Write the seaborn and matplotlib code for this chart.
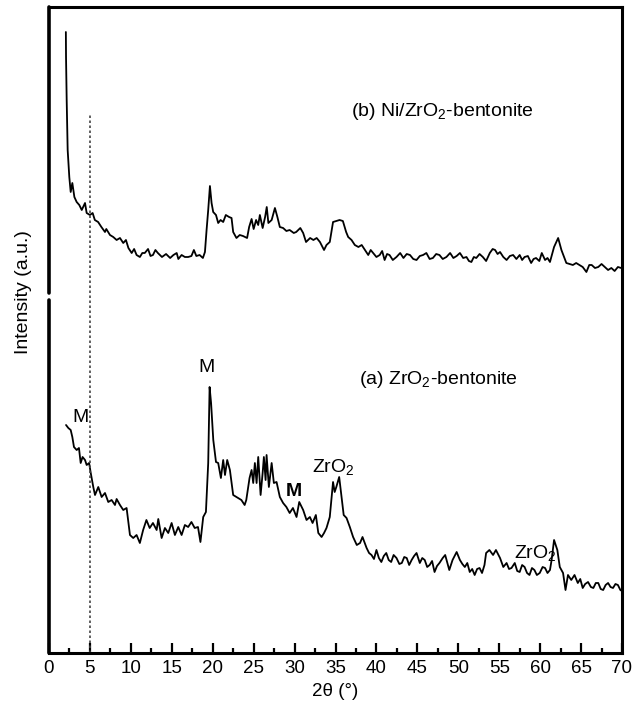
import numpy as np
import pandas as pd
import matplotlib
matplotlib.use("Agg")
import matplotlib.pyplot as plt
import seaborn as sns

# ---- data (intensity in arbitrary units) ----
b_theta = [2.06, 2.08, 2.16, 2.28, 2.48, 2.65, 2.85, 3.1, 3.38, 3.7, 4.0, 4.4, 4.6, 5.0,
           5.33, 5.6, 6.0, 6.4, 6.84, 7.0, 7.45, 7.85, 8.26, 8.67, 9.07, 9.4, 9.7, 10.1,
           10.4, 10.7, 11.1, 11.4, 11.7, 12.1, 12.4, 12.7, 13.0, 13.3, 13.8, 14.3, 14.8,
           15.2, 15.6, 15.8, 16.2, 16.6, 17.0, 17.4, 17.7, 18.0, 18.4, 18.8, 19.05, 19.25,
           19.45, 19.66, 19.86, 20.06, 20.4, 20.67, 20.96, 21.28, 21.6, 22.0, 22.3, 22.5,
           22.9, 23.3, 23.7, 24.2, 24.45, 24.75, 25.0, 25.3, 25.56, 25.76, 26.1, 26.4,
           26.6, 26.8, 27.2, 27.6, 27.9, 28.2, 28.6, 29.0, 29.4, 29.9, 30.2, 30.7, 31.05,
           31.4, 31.9, 32.3, 32.7, 33.1, 33.6, 33.9, 34.3, 34.7, 35.1, 35.5, 35.9, 36.3,
           36.55, 36.96, 37.36, 37.8, 38.2, 38.6, 39.0, 39.3, 39.6, 40.0, 40.4, 40.7,
           41.0, 41.3, 41.6, 42.0, 42.45, 42.9, 43.3, 43.7, 44.1, 44.5, 44.9, 45.3, 45.7,
           46.1, 46.5, 46.9, 47.3, 47.7, 48.1, 48.55, 49.0, 49.4, 49.8, 50.2, 50.6, 51.0,
           51.3, 51.6, 51.9, 52.2, 52.6, 53.0, 53.4, 53.85, 54.2, 54.5, 54.8, 55.1, 55.5,
           55.9, 56.3, 56.7, 57.1, 57.5, 57.8, 58.1, 58.5, 58.9, 59.2, 59.5, 59.9, 60.2,
           60.6, 60.9, 61.2, 61.7, 62.2, 62.6, 63.2, 63.6, 64.0, 64.4, 64.8, 65.2, 65.65,
           66.0, 66.3, 66.7, 67.1, 67.5, 67.9, 68.3, 68.7, 69.1, 69.5, 69.9]
b_int = [621, 596, 553, 503, 476, 461, 470, 456, 451, 448, 443, 450, 440, 438,
         440, 433, 431, 426, 421, 424, 418, 416, 413, 415, 410, 413, 405, 400,
         404, 398, 396, 400, 400, 404, 397, 398, 403, 400, 396, 399, 395,
         398, 400, 394, 398, 396, 396, 397, 403, 397, 398, 395, 401, 423,
         443, 467, 450, 441, 438, 430, 433, 431, 438, 436, 435, 421,
         415, 418, 417, 415, 426, 434, 424, 433, 428, 438, 425, 436,
         446, 430, 433, 445, 436, 426, 425, 422, 423, 420, 421, 425, 420,
         411, 415, 413, 415, 411, 403, 408, 411, 431, 432, 433, 432, 421,
         416, 413, 408, 406, 408, 403, 398, 403, 400, 396, 398, 402,
         393, 399, 398, 393, 396, 400, 395, 399, 398, 394, 393, 397, 398,
         400, 394, 395, 399, 398, 394, 396, 400, 395, 397, 400, 395, 396,
         392, 391, 396, 395, 399, 396, 392, 400, 404, 403, 399, 401, 396,
         393, 397, 398, 394, 398, 393, 396, 397, 390, 394, 395, 392, 400,
         393, 395, 391, 406, 415, 403, 390, 389, 388, 390, 388, 386, 381,
         388, 388, 385, 386, 389, 386, 383, 385, 382, 386, 385]

a_theta = [2.08, 2.36, 2.65, 2.85, 3.05, 3.38, 3.66, 3.87, 4.1, 4.4, 4.6, 4.9, 5.1, 5.41,
           5.62, 6.02, 6.43, 6.84, 7.24, 7.65, 8.06, 8.26, 8.67, 9.07, 9.48, 9.89, 10.29,
           10.7, 11.1, 11.5, 11.9, 12.3, 12.7, 13.15, 13.35, 13.76, 14.16, 14.57, 14.98,
           15.38, 15.79, 16.2, 16.6, 17.0, 17.4, 17.8, 18.2, 18.5, 18.84, 19.17, 19.45,
           19.62, 19.8, 20.07, 20.4, 20.67, 21.0, 21.28, 21.5, 21.77, 22.1, 22.5, 22.9,
           23.5, 23.9, 24.1, 24.5, 24.75, 24.95, 25.15, 25.36, 25.56, 25.85, 26.1, 26.25,
           26.46, 26.58, 26.86, 27.2, 27.47, 27.8, 28.2, 28.6, 29.0, 29.4, 29.8, 30.24,
           30.57, 31.05, 31.46, 31.87, 32.2, 32.6, 32.9, 33.3, 33.6, 33.9, 34.3, 34.7,
           34.9, 35.1, 35.45, 35.74, 36.0, 36.35, 36.75, 37.15, 37.6, 38.0, 38.3, 38.8,
           39.1, 39.4, 39.7, 40.0, 40.3, 40.6, 40.9, 41.2, 41.5, 41.8, 42.1, 42.45, 42.8,
           43.1, 43.4, 43.7, 44.0, 44.3, 44.6, 44.9, 45.3, 45.6, 45.9, 46.2, 46.5, 46.8,
           47.1, 47.4, 47.7, 48.1, 48.4, 48.9, 49.3, 49.8, 50.2, 50.5, 50.8, 51.1, 51.4,
           51.7, 52.0, 52.3, 52.6, 52.9, 53.2, 53.4, 53.8, 54.25, 54.6, 55.1, 55.5, 55.9,
           56.2, 56.5, 56.9, 57.2, 57.5, 57.8, 58.1, 58.4, 58.7, 59.0, 59.3, 59.6, 59.95,
           60.3, 60.6, 60.9, 61.2, 61.4, 61.7, 62.1, 62.4, 62.8, 63.1, 63.4, 63.8, 64.2,
           64.6, 64.9, 65.2, 65.5, 65.85, 66.2, 66.5, 66.8, 67.1, 67.4, 67.7, 68.0, 68.3,
           68.6, 68.9, 69.2, 69.5, 69.8, 70.0]
a_int = [228, 225, 223, 216, 206, 203, 205, 190, 196, 193, 188, 190, 180, 166,
         158, 166, 156, 160, 151, 153, 148, 154, 148, 143, 145, 118, 115,
         118, 110, 123, 133, 125, 130, 123, 134, 115, 125, 120, 130,
         118, 126, 118, 128, 126, 131, 125, 126, 111, 136, 141, 190,
         266, 250, 213, 191, 190, 175, 193, 178, 193, 183, 158, 156,
         153, 148, 153, 175, 183, 170, 190, 170, 196, 158, 180, 196,
         173, 198, 166, 190, 170, 171, 156, 150, 146, 140, 145, 136,
         151, 143, 133, 136, 130, 138, 120, 116, 120, 125, 136, 171,
         161, 166, 176, 156, 138, 135, 126, 116, 108, 110, 116, 105,
         100, 98, 94, 103, 95, 91, 97, 100, 93, 91, 98, 95, 89,
         90, 96, 95, 88, 93, 97, 100, 90, 95, 93, 86, 88, 92,
         81, 87, 90, 95, 98, 83, 93, 101, 93, 89, 86, 90, 81,
         84, 78, 84, 85, 80, 88, 100, 103, 98, 103, 95, 86, 90,
         84, 85, 90, 82, 81, 88, 86, 80, 78, 85, 83, 78, 80,
         86, 85, 80, 83, 93, 113, 103, 86, 80, 63, 78, 73, 78,
         70, 74, 65, 69, 71, 66, 65, 70, 70, 64, 63, 68, 70,
         66, 65, 69, 68, 63, 62]

curve_labels = ["(a) ZrO$_2$-bentonite", "(b) Ni/ZrO$_2$-bentonite"]
peak_labels = ["M", "M", "M", "ZrO$_2$", "ZrO$_2$"]
peak_x = [3.8, 19.3, 29.9, 34.7, 59.4]
peak_y = [236, 285, 162, 186, 100]
xticks = list(range(0, 75, 5))

df = pd.concat([
    pd.DataFrame({"theta": a_theta, "intensity": a_int, "sample": "a"}),
    pd.DataFrame({"theta": b_theta, "intensity": b_int, "sample": "b"}),
])

sns.set_style("ticks")
plt.rcParams["font.family"] = ["Liberation Sans", "DejaVu Sans"]
plt.rcParams["mathtext.fontset"] = "custom"
plt.rcParams["mathtext.rm"] = "Liberation Sans"
plt.rcParams["mathtext.it"] = "Liberation Sans:italic"
plt.rcParams["mathtext.bf"] = "Liberation Sans:bold"
plt.rcParams["text.color"] = "black"
plt.rcParams["axes.labelcolor"] = "black"
plt.rcParams["xtick.color"] = "black"

fig = plt.figure(figsize=(6.33, 7.09), dpi=100)
ax = fig.add_axes([49 / 633, 1 - 653 / 709, (622 - 49) / 633, (653 - 7) / 709])

sns.lineplot(data=df, x="theta", y="intensity", units="sample", estimator=None,
             sort=False, color="black", linewidth=1.3, ax=ax, legend=False)

ax.axvline(5, color="#444444", linestyle=(0, (1.5, 1.5)), linewidth=1.2,
           ymax=(653 - 113) / 646)

ax.set_xlim(0, 70)
ax.set_ylim(0, 646)
ax.set_xticks(xticks)
ax.set_xticks(np.arange(2.5, 70, 5), minor=True)
ax.set_yticks([])
ax.tick_params(axis="x", which="major", direction="in", length=7, width=1.6,
               labelsize=13.5, pad=5, colors="black")
ax.tick_params(axis="x", which="minor", direction="in", length=3.5, width=1.6)
for s in ["bottom", "right", "top"]:
    ax.spines[s].set_linewidth(2.2)
    ax.spines[s].set_color("black")
ax.spines["left"].set_visible(False)
ax.axvline(0, ymin=0, ymax=(653 - 300) / 646, color="black", linewidth=2.6, clip_on=False)
ax.axvline(0, ymin=(653 - 293) / 646, ymax=1, color="black", linewidth=2.6, clip_on=False)

ax.set_xlabel("2θ (°)", fontsize=13.5, labelpad=4)
ax.set_ylabel("Intensity (a.u.)", fontsize=14)
ax.yaxis.set_label_coords(-0.030, 0.559)

ax.text(48.1, 541, curve_labels[1], fontsize=14, ha="center", va="center")
ax.text(47.6, 274, curve_labels[0], fontsize=14, ha="center", va="center")
for i, (lab, px, py) in enumerate(zip(peak_labels, peak_x, peak_y)):
    ax.text(px, py, lab, fontsize=14, ha="center", va="center",
            fontweight="bold" if i == 2 else "normal")

fig.savefig("out.png", dpi=100)
